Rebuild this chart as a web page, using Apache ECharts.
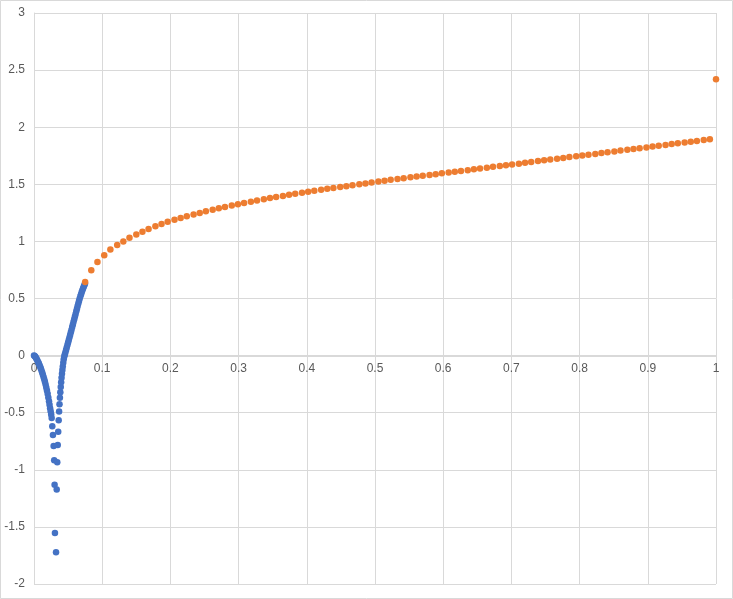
<!DOCTYPE html>
<html>
<head>
<meta charset="utf-8">
<script src="https://cdn.jsdelivr.net/npm/echarts@6/dist/echarts.min.js"></script>
<style>
  html, body { margin: 0; padding: 0; background: #fff; }
  #chart { width: 733px; height: 599px; }
</style>
</head>
<body>
<div id="chart"></div>
<script>
// blue series: left branch (0 -> pole) then right branch (pole -> 0.0748)
const blueX = [
  0.000, 0.001, 0.002, 0.003, 0.004, 0.005, 0.006, 0.007, 0.008, 0.009,
  0.010, 0.011, 0.012, 0.013, 0.014, 0.015, 0.016, 0.017, 0.018, 0.019,
  0.020, 0.021, 0.022, 0.0228, 0.0236, 0.0244, 0.0252, 0.0259, 0.0268, 0.0278,
  0.0288, 0.0296, 0.0302, 0.0307,
  0.0323, 0.0333, 0.0341, 0.0348, 0.0355, 0.0362, 0.0368, 0.0374, 0.0380, 0.0386,
  0.0392, 0.0398, 0.0404, 0.0410, 0.0416, 0.0422, 0.0429, 0.0436, 0.0444, 0.0452,
  0.046, 0.047, 0.048, 0.049, 0.050, 0.051, 0.052, 0.053, 0.054, 0.055,
  0.056, 0.057, 0.058, 0.059, 0.060, 0.061, 0.062, 0.063, 0.064, 0.065,
  0.066, 0.067, 0.068, 0.069, 0.070, 0.071, 0.072, 0.073, 0.074, 0.0748
]
const blueY = [
  0.000, -0.004, -0.011, -0.020, -0.031, -0.043, -0.055, -0.068, -0.082, -0.097,
  -0.113, -0.130, -0.148, -0.167, -0.187, -0.208, -0.230, -0.254, -0.279, -0.306,
  -0.335, -0.366, -0.400, -0.430, -0.462, -0.487, -0.515, -0.546, -0.619, -0.695,
  -0.791, -0.917, -1.130, -1.553,
  -1.722, -1.173, -0.934, -0.782, -0.666, -0.566, -0.490, -0.425, -0.370, -0.320,
  -0.275, -0.233, -0.195, -0.160, -0.127, -0.096, -0.063, -0.033, -0.008, 0.010,
  0.027, 0.049, 0.071, 0.093, 0.115, 0.137, 0.159, 0.181, 0.204, 0.227,
  0.250, 0.273, 0.296, 0.319, 0.342, 0.365, 0.388, 0.411, 0.434, 0.456,
  0.478, 0.499, 0.519, 0.538, 0.556, 0.573, 0.589, 0.604, 0.619, 0.632
]

// orange series
const orangeX = [
  0.075, 0.084, 0.093, 0.103, 0.112, 0.122, 0.131, 0.140, 0.150, 0.159,
  0.168, 0.178, 0.187, 0.196, 0.206, 0.215, 0.224, 0.234, 0.243, 0.252,
  0.262, 0.271, 0.280, 0.290, 0.299, 0.308, 0.318, 0.327, 0.337, 0.346,
  0.355, 0.365, 0.374, 0.383, 0.393, 0.402, 0.411, 0.421, 0.430, 0.439,
  0.449, 0.458, 0.467, 0.477, 0.486, 0.495, 0.505, 0.514, 0.523, 0.533,
  0.542, 0.552, 0.561, 0.570, 0.580, 0.589, 0.598, 0.608, 0.617, 0.626,
  0.636, 0.645, 0.654, 0.664, 0.673, 0.683, 0.692, 0.701, 0.711, 0.720,
  0.729, 0.739, 0.748, 0.757, 0.767, 0.776, 0.785, 0.795, 0.804, 0.813,
  0.823, 0.832, 0.841, 0.851, 0.860, 0.870, 0.879, 0.888, 0.898, 0.907,
  0.916, 0.926, 0.935, 0.944, 0.954, 0.963, 0.972, 0.982, 0.991, 1.000
]
const orangeY = [
  0.645, 0.748, 0.820, 0.878, 0.928, 0.969, 1.000, 1.033, 1.060, 1.085,
  1.109, 1.132, 1.153, 1.173, 1.189, 1.205, 1.220, 1.235, 1.249, 1.263,
  1.277, 1.290, 1.302, 1.314, 1.326, 1.337, 1.348, 1.359, 1.370, 1.379,
  1.389, 1.398, 1.408, 1.417, 1.426, 1.435, 1.444, 1.452, 1.460, 1.468,
  1.476, 1.484, 1.492, 1.500, 1.508, 1.516, 1.524, 1.531, 1.539, 1.546,
  1.554, 1.561, 1.568, 1.575, 1.582, 1.589, 1.596, 1.603, 1.610, 1.617,
  1.624, 1.632, 1.639, 1.646, 1.653, 1.660, 1.667, 1.674, 1.681, 1.688,
  1.695, 1.703, 1.710, 1.717, 1.724, 1.731, 1.738, 1.745, 1.752, 1.759,
  1.766, 1.774, 1.781, 1.788, 1.795, 1.802, 1.809, 1.816, 1.823, 1.830,
  1.837, 1.845, 1.852, 1.859, 1.866, 1.873, 1.880, 1.887, 1.894, 2.420
]

const gridColor = '#D9D9D9'
const labelColor = '#595959'
const font = 'Liberation Sans, Arial, sans-serif'

const chart = echarts.init(document.getElementById('chart'), null, { renderer: 'canvas' })

const toPairs = (xs, ys) => xs.map((x, i) => [x, ys[i]])

chart.setOption({
  animation: false,
  backgroundColor: '#fff',
  graphic: [{
    type: 'rect',
    shape: { x: 0.5, y: 0.5, width: 732, height: 598 },
    style: { fill: 'none', stroke: gridColor, lineWidth: 1 },
    silent: true
  }],
  grid: { left: 34, right: 17, top: 13, bottom: 15, containLabel: false },
  xAxis: {
    type: 'value',
    min: 0,
    max: 1,
    interval: 0.1,
    // x axis crosses at y = 0, like in Excel
    offset: -228,
    axisLine: { show: true, onZero: false, lineStyle: { color: gridColor } },
    axisTick: { show: false },
    axisLabel: { color: labelColor, fontSize: 12, margin: 7, fontFamily: font },
    splitLine: { show: true, lineStyle: { color: gridColor } }
  },
  yAxis: {
    type: 'value',
    min: -2,
    max: 3,
    interval: 0.5,
    axisLine: { show: true, onZero: false, lineStyle: { color: gridColor } },
    axisTick: { show: false },
    axisLabel: { color: labelColor, fontSize: 12, margin: 9, fontFamily: font },
    splitLine: { show: true, lineStyle: { color: gridColor } }
  },
  series: [
    {
      type: 'scatter',
      data: toPairs(blueX, blueY),
      symbolSize: 6.5,
      itemStyle: { color: '#4472C4', opacity: 1 }
    },
    {
      type: 'scatter',
      data: toPairs(orangeX, orangeY),
      symbolSize: 6.5,
      itemStyle: { color: '#ED7D31', opacity: 1 }
    }
  ]
})
</script>
</body>
</html>
